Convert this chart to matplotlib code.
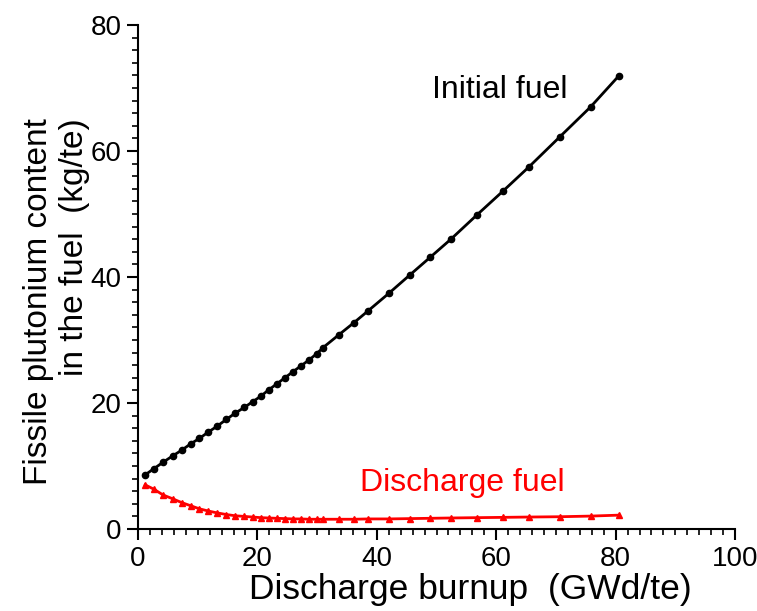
import numpy as np
import matplotlib.pyplot as plt
from matplotlib.ticker import MultipleLocator

plt.rcParams['font.family'] = ['Liberation Sans', 'DejaVu Sans']

# burnup points (GWd/te)
burnup = [1.2, 2.7, 4.2, 5.8, 7.3, 8.8, 10.3, 11.8, 13.3, 14.8, 16.3, 17.8,
          19.2, 20.6, 21.9, 23.2, 24.6, 26.0, 27.3, 28.6, 29.9, 31.0, 33.6,
          36.1, 38.5, 42.0, 45.5, 48.9, 52.4, 56.7, 61.2, 65.5, 70.7, 75.8, 80.5]
initial_pu = [8.6, 9.6, 10.6, 11.6, 12.5, 13.5, 14.4, 15.4, 16.35, 17.4, 18.4,
              19.3, 20.2, 21.1, 22.1, 23.0, 24.0, 25.0, 25.9, 26.8, 27.8, 28.8,
              30.8, 32.7, 34.6, 37.4, 40.3, 43.1, 46.0, 49.8, 53.7, 57.5, 62.3,
              67.0, 71.9]
discharge_pu = [7.0, 6.3, 5.4, 4.8, 4.2, 3.7, 3.2, 2.85, 2.55, 2.3, 2.1, 2.0,
                1.9, 1.8, 1.75, 1.7, 1.65, 1.6, 1.6, 1.55, 1.55, 1.55, 1.55,
                1.55, 1.6, 1.6, 1.65, 1.7, 1.75, 1.8, 1.85, 1.9, 1.95, 2.05, 2.2]

fig = plt.figure(figsize=(7.57, 6.11), dpi=100)
ax = fig.add_axes([0.1823, 0.1342, 0.971 - 0.1823, 0.959 - 0.1342])

ax.plot(burnup, initial_pu, "-o", color="black", lw=2.0, ms=4.5)
ax.plot(burnup, discharge_pu, "-^", color="red", lw=2.0, ms=4.5)

ax.text(49.3, 69.7, "Initial fuel", fontsize=23, va="center", ha="left")
ax.text(37.2, 7.3, "Discharge fuel", fontsize=23, va="center", ha="left",
        color="red")

ax.set_xlim(0, 100)
ax.set_ylim(0, 80)
ax.xaxis.set_major_locator(MultipleLocator(20))
ax.xaxis.set_minor_locator(MultipleLocator(2))
ax.yaxis.set_major_locator(MultipleLocator(20))
ax.yaxis.set_minor_locator(MultipleLocator(2))

for s in ["top", "right"]:
    ax.spines[s].set_visible(False)
for s in ["left", "bottom"]:
    ax.spines[s].set_linewidth(1.5)
ax.tick_params(which="major", direction="out", length=8, width=1.5,
               labelsize=20, pad=4)
ax.tick_params(which="minor", direction="out", length=4.5, width=1.2)

ax.set_xlabel("Discharge burnup  (GWd/te)", fontsize=25.5)
ax.xaxis.set_label_coords(0.556, -0.088)
ax.set_ylabel("Fissile plutonium content\nin the fuel  (kg/te)", fontsize=24,
              linespacing=1.2, multialignment="right")
ax.yaxis.set_label_coords(-0.08, 0.452)

fig.savefig("out.png", dpi=100)
